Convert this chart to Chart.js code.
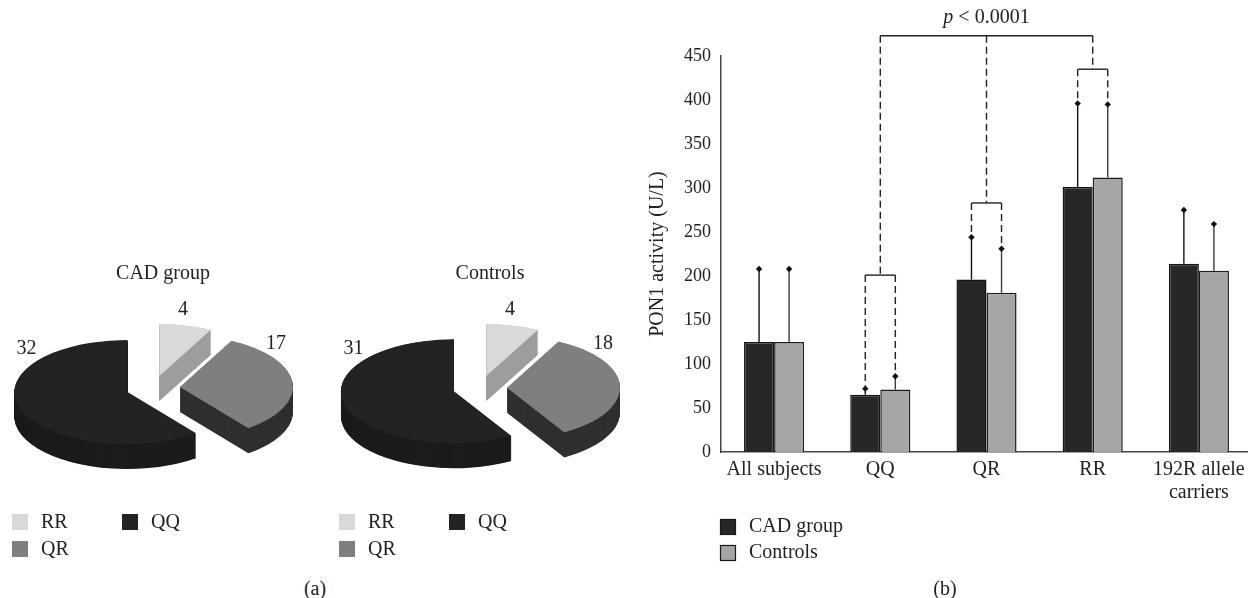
<!DOCTYPE html>
<html>
<head>
<meta charset="utf-8">
<script src="https://cdn.jsdelivr.net/npm/chart.js@4.4.1/dist/chart.umd.min.js"></script>
<style>
  html, body { margin: 0; padding: 0; background: #fff; overflow: hidden; width: 1248px; height: 598px; }
  canvas { position: absolute; }
  .panel { position: absolute; font: 20px "Liberation Serif", serif; color: #222; transform: translate(-50%, -50%); white-space: nowrap; }
</style>
</head>
<body>
<canvas id="pieCAD" width="300" height="330" style="left:3px; top:250px; width:300px; height:330px;"></canvas>
<canvas id="pieCtrl" width="300" height="330" style="left:330px; top:250px; width:300px; height:330px;"></canvas>
<canvas id="bars" width="612" height="598" style="left:640px; top:0px; width:612px; height:598px;"></canvas>
<div class="panel" style="left:315px; top:588px;">(a)</div>
<div class="panel" style="left:945px; top:588px;">(b)</div>
<script>
// ---------- data: panel (a) ----------
const pieLabels = ['RR', 'QR', 'QQ'];
const cadGenotypes = [4, 17, 32];
const controlGenotypes = [4, 18, 31];
const pieTitles = ['CAD group', 'Controls'];
const pieTopColors = ['#d8d9d8', '#7f7f7f', '#232323'];
const pieSideColors = ['#9c9d9c', '#2f3130', '#1c1c1c'];

// ---------- data: panel (b) ----------
const barCategories = ['All subjects', 'QQ', 'QR', 'RR', ['192R allele', 'carriers']];
const seriesNames = ['CAD group', 'Controls'];
const cadMeans = [125, 65, 196, 301, 214];
const cadSD = [83, 7, 48, 95, 61];
const controlMeans = [125, 71, 181, 312, 206];
const controlSD = [83, 15, 50, 83, 53];
const yMin = 0, yMax = 450, yStep = 50;
const bracketCategories = [1, 2, 3];
const bracketLevels = [201, 283, 435];
const overallBracketLevel = 473;
const overallLabelItalic = 'p';
const overallLabelRest = ' < 0.0001';

const FONT = '"Liberation Serif", serif';
const INK = '#222';

// ---------- 3D pie plugin ----------
const pie3d = {
  id: 'pie3d',
  beforeDatasetsDraw(chart, args, o) {
    const ctx = chart.ctx;
    const arcs = chart.getDatasetMeta(0).data;
    const sides = chart.data.datasets[0].sideColor;
    const mid = a => (a.startAngle + a.endAngle) / 2;
    const order = arcs.map((a, i) => i).sort((i, j) => Math.sin(mid(arcs[i])) - Math.sin(mid(arcs[j])));
    order.forEach(i => {
      const a = arcs[i];
      const { x, y, startAngle, endAngle, outerRadius } = a.getProps(['x', 'y', 'startAngle', 'endAngle', 'outerRadius'], true);
      const m = (startAngle + endAngle) / 2;
      ctx.save();
      ctx.translate(x, y); ctx.scale(1, o.tilt); ctx.translate(-x, -y);
      ctx.translate(Math.cos(m) * o.explode, Math.sin(m) * o.explode);
      ctx.fillStyle = sides[i];
      for (let s = o.depth; s > 0; s -= 0.5) {
        const yy = y + s / o.tilt;
        ctx.beginPath();
        ctx.moveTo(x, yy);
        ctx.arc(x, yy, outerRadius, startAngle, endAngle);
        ctx.closePath();
        ctx.fill();
      }
      a.draw(ctx);
      ctx.restore();
    });
    return false;
  },
  afterDraw(chart, args, o) {
    const ctx = chart.ctx;
    const arcs = chart.getDatasetMeta(0).data;
    const ds = chart.data.datasets[0];
    const cx = arcs[0].x, cy = arcs[0].y, R = arcs[0].outerRadius;
    ctx.save();
    ctx.font = '20px ' + FONT;
    ctx.fillStyle = INK;
    ctx.textAlign = 'center';
    ctx.textBaseline = 'middle';
    ctx.fillText(o.title, cx + o.titleDX, o.titleY);
    arcs.forEach((a, i) => {
      const ang = o.labelAngles[i] * Math.PI / 180;
      const r = o.labelDist[i] * R;
      ctx.fillText(String(ds.data[i]), cx + Math.cos(ang) * r, cy + Math.sin(ang) * r * o.tilt);
    });
    ctx.textAlign = 'left';
    chart.data.labels.forEach((lab, i) => {
      const col = Math.floor(i / 2), row = i % 2;
      const bx = o.legendX + col * 110, by = o.legendY + row * 27;
      ctx.fillStyle = ds.backgroundColor[i];
      ctx.fillRect(bx, by, 16, 16);
      ctx.fillStyle = INK;
      ctx.fillText(lab, bx + 29, by + 9);
    });
    ctx.restore();
  }
};

function makePie(id, values, title) {
  return new Chart(document.getElementById(id), {
    type: 'pie',
    data: {
      labels: pieLabels,
      datasets: [{
        data: values,
        backgroundColor: pieTopColors,
        sideColor: pieSideColors,
        borderWidth: 0,
        offset: 0,
        hoverOffset: 0,
        radius: 113
      }]
    },
    options: {
      responsive: false,
      animation: false,
      events: [],
      layout: { padding: { top: 0, left: 0, right: 0, bottom: 54 } },
      plugins: {
        legend: { display: false },
        tooltip: { enabled: false },
        pie3d: {
          tilt: 0.46, depth: 25, explode: 27,
          title: title, titleY: 24, titleDX: 10,
          labelAngles: [-80, -38, 214],
          labelDist: [1.53, 1.38, 1.35],
          legendX: 9, legendY: 264
        }
      }
    },
    plugins: [pie3d]
  });
}
makePie('pieCAD', cadGenotypes, pieTitles[0]);
makePie('pieCtrl', controlGenotypes, pieTitles[1]);

// ---------- error bars, brackets, legend plugin ----------
const barExtras = {
  id: 'barExtras',
  afterDatasetsDraw(chart) {
    const ctx = chart.ctx;
    const ys = chart.scales.y;
    const m0 = chart.getDatasetMeta(0).data;
    const m1 = chart.getDatasetMeta(1).data;
    const diamond = (x, y) => {
      ctx.beginPath();
      ctx.moveTo(x, y - 3.2); ctx.lineTo(x + 3.2, y); ctx.lineTo(x, y + 3.2); ctx.lineTo(x - 3.2, y);
      ctx.closePath(); ctx.fill();
    };
    ctx.save();
    [[m0, cadMeans, cadSD, '#111'], [m1, controlMeans, controlSD, '#3a3a3a']].forEach(([els, means, sds, col]) => {
      els.forEach((bar, i) => {
        const top = ys.getPixelForValue(means[i]);
        const cap = ys.getPixelForValue(means[i] + sds[i]);
        ctx.strokeStyle = col; ctx.fillStyle = '#111'; ctx.lineWidth = 1.4;
        ctx.setLineDash([]);
        ctx.beginPath(); ctx.moveTo(bar.x, top); ctx.lineTo(bar.x, cap); ctx.stroke();
        diamond(bar.x, cap);
      });
    });
    const topY = ys.getPixelForValue(overallBracketLevel);
    const centers = [];
    ctx.strokeStyle = '#222'; ctx.lineWidth = 1.4;
    bracketCategories.forEach((ci, k) => {
      const lvl = ys.getPixelForValue(bracketLevels[k]);
      const xa = m0[ci].x, xb = m1[ci].x;
      const ca = ys.getPixelForValue(cadMeans[ci] + cadSD[ci]);
      const cb = ys.getPixelForValue(controlMeans[ci] + controlSD[ci]);
      const xc = (xa + xb) / 2;
      centers.push(xc);
      ctx.setLineDash([7, 4]);
      ctx.beginPath(); ctx.moveTo(xa, lvl); ctx.lineTo(xa, ca - 3); ctx.stroke();
      ctx.beginPath(); ctx.moveTo(xb, lvl); ctx.lineTo(xb, cb - 3); ctx.stroke();
      ctx.beginPath(); ctx.moveTo(xc, topY); ctx.lineTo(xc, lvl); ctx.stroke();
      ctx.setLineDash([]);
      ctx.beginPath(); ctx.moveTo(xa, lvl); ctx.lineTo(xb, lvl); ctx.stroke();
    });
    const x0 = Math.min(...centers), x1 = Math.max(...centers);
    ctx.setLineDash([]);
    ctx.beginPath(); ctx.moveTo(x0, topY); ctx.lineTo(x1, topY); ctx.stroke();
    const xm = (x0 + x1) / 2;
    ctx.fillStyle = INK;
    ctx.textBaseline = 'middle';
    ctx.textAlign = 'left';
    ctx.font = 'italic 20px ' + FONT;
    const w1 = ctx.measureText(overallLabelItalic).width;
    ctx.font = '20px ' + FONT;
    const w2 = ctx.measureText(overallLabelRest).width;
    const sx = xm - (w1 + w2) / 2;
    const ty = topY - 18;
    ctx.font = 'italic 20px ' + FONT;
    ctx.fillText(overallLabelItalic, sx, ty);
    ctx.font = '20px ' + FONT;
    ctx.fillText(overallLabelRest, sx + w1, ty);
    ctx.restore();
  },
  afterDraw(chart) {
    const ctx = chart.ctx;
    ctx.save();
    ctx.font = '20px ' + FONT;
    ctx.textBaseline = 'middle';
    ctx.textAlign = 'left';
    chart.data.datasets.forEach((ds, i) => {
      const by = 519 + i * 26;
      ctx.fillStyle = ds.backgroundColor;
      ctx.fillRect(80, by, 15, 15);
      ctx.strokeStyle = '#1a1a1a'; ctx.lineWidth = 1.2;
      ctx.strokeRect(80.5, by + 0.5, 15, 15);
      ctx.fillStyle = INK;
      ctx.fillText(ds.label, 109, by + 8);
    });
    ctx.restore();
  }
};

new Chart(document.getElementById('bars'), {
  type: 'bar',
  data: {
    labels: barCategories,
    datasets: [
      { label: seriesNames[0], data: cadMeans, backgroundColor: '#262828', borderColor: '#141414', borderWidth: 1.5 },
      { label: seriesNames[1], data: controlMeans, backgroundColor: '#a6a6a6', borderColor: '#1e1e1e', borderWidth: 1.5 }
    ]
  },
  options: {
    responsive: false,
    animation: false,
    events: [],
    categoryPercentage: 0.566,
    barPercentage: 1.0,
    layout: { autoPadding: false, padding: { top: 56, left: 0, right: 0, bottom: 0 } },
    plugins: { legend: { display: false }, tooltip: { enabled: false } },
    scales: {
      x: {
        grid: { display: false, drawTicks: false },
        border: { display: true, color: '#444', width: 1.5 },
        ticks: { padding: 6, color: INK, maxRotation: 0, autoSkip: false, font: { family: FONT, size: 20, lineHeight: 1.15 } },
        afterFit: s => { s.height = 146; }
      },
      y: {
        min: yMin, max: yMax,
        grid: { display: false, drawTicks: false },
        border: { display: true, color: '#444', width: 1.5 },
        ticks: { stepSize: yStep, padding: 10, color: INK, font: { family: FONT, size: 18 } },
        title: { display: true, text: 'PON1 activity (U/L)', color: INK, font: { family: FONT, size: 20 }, padding: { top: 6, bottom: 0 } },
        afterFit: s => { s.width = 81; }
      }
    }
  },
  plugins: [barExtras]
});
</script>
</body>
</html>
